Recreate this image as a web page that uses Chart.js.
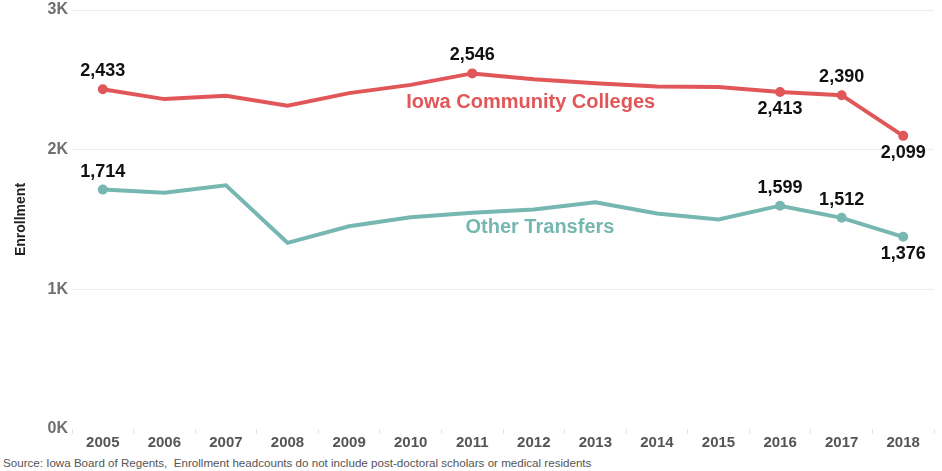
<!DOCTYPE html>
<html>
<head>
<meta charset="utf-8">
<script src="https://cdn.jsdelivr.net/npm/chart.js@4"></script>
<style>
  html, body { margin: 0; padding: 0; background: #fff; }
  #wrap { position: relative; width: 942px; height: 471px; }
  #source {
    position: absolute; left: 3px; top: 456px;
    font: 11.6px "Liberation Sans", Arial, sans-serif; color: #555;
    white-space: pre;
  }
</style>
</head>
<body>
<div id="wrap">
  <canvas id="chart" width="942" height="452"></canvas>
  <div id="source">Source: Iowa Board of Regents,  Enrollment headcounts do not include post-doctoral scholars or medical residents</div>
</div>
<script>
/* ================= DATA ================= */
const years = ["2005", "2006", "2007", "2008", "2009", "2010", "2011",
               "2012", "2013", "2014", "2015", "2016", "2017", "2018"];

const colleges  = [2433, 2362, 2386, 2314, 2405, 2464, 2546, 2505, 2476, 2452, 2448, 2413, 2390, 2099];
const transfers = [1714, 1691, 1745, 1333, 1452, 1516, 1548, 1571, 1624, 1543, 1500, 1599, 1512, 1376];

// which points get a value label, and on which side
const collegeMarks  = ["above", null, null, null, null, null, "above", null, null, null, null, "below", "above", "below"];
const transferMarks = ["above", null, null, null, null, null, null, null, null, null, null, "above", "above", "below"];

const yTicks = [0, 1000, 2000, 3000];

/* ================= STYLE ================= */
const FONT = '"Liberation Sans", Arial, sans-serif';
const RED = "#e15759";
const TEAL = "#76b7b2";

/* ================= PLUGINS ================= */
const valueLabels = {
  id: "valueLabels",
  afterDatasetsDraw(chart) {
    const ctx = chart.ctx;
    ctx.save();
    ctx.font = `bold 18px ${FONT}`;
    ctx.fillStyle = "#111";
    ctx.textAlign = "center";
    ctx.textBaseline = "middle";
    chart.data.datasets.forEach((ds, di) => {
      const meta = chart.getDatasetMeta(di);
      ds.marks.forEach((m, i) => {
        if (!m) return;
        const pt = meta.data[i];
        const txt = ds.data[i].toLocaleString("en-US");
        const w = ctx.measureText(txt).width;
        const x = Math.min(pt.x, chart.width - 2 - w / 2);
        const y = m === "above" ? pt.y - 18 : pt.y + 17;
        ctx.fillText(txt, x, y);
      });
    });
    ctx.restore();
  }
};

const seriesNames = {
  id: "seriesNames",
  afterDatasetsDraw(chart) {
    const { ctx, scales: { x, y } } = chart;
    ctx.save();
    ctx.font = `bold 20px ${FONT}`;
    ctx.textAlign = "center";
    ctx.textBaseline = "middle";
    ctx.fillStyle = RED;
    ctx.fillText("Iowa Community Colleges", x.getPixelForValue(6.95), y.getPixelForValue(2336));
    ctx.fillStyle = TEAL;
    ctx.fillText("Other Transfers", x.getPixelForValue(7.1), y.getPixelForValue(1443));
    ctx.restore();
  }
};

/* ================= CHART ================= */
new Chart(document.getElementById("chart"), {
  type: "line",
  data: {
    labels: years,
    datasets: [
      {
        label: "Iowa Community Colleges",
        data: colleges,
        marks: collegeMarks,
        borderColor: RED,
        backgroundColor: RED,
        borderWidth: 4,
        pointRadius: collegeMarks.map(m => (m ? 3 : 0)),
        tension: 0
      },
      {
        label: "Other Transfers",
        data: transfers,
        marks: transferMarks,
        borderColor: TEAL,
        backgroundColor: TEAL,
        borderWidth: 4,
        pointRadius: transferMarks.map(m => (m ? 3 : 0)),
        tension: 0
      }
    ]
  },
  options: {
    responsive: false,
    animation: false,
    layout: { padding: { top: 0, right: 1, bottom: 0, left: 0 } },
    plugins: { legend: { display: false }, tooltip: { enabled: false } },
    scales: {
      x: {
        offset: true,
        border: { display: false },
        grid: { drawOnChartArea: false, drawTicks: true, tickLength: 5, color: "#e3e3e3", offset: true },
        ticks: { color: "#555", font: { family: FONT, size: 15, weight: "bold" }, padding: 0 }
      },
      y: {
        min: 0,
        max: 3000,
        afterBuildTicks: s => { s.ticks = yTicks.map(v => ({ value: v })); },
        afterFit: s => { s.width = 72; s.paddingTop = 10; },
        border: { display: false },
        grid: {
          drawTicks: false,
          color: c => (c.tick && c.tick.value === 0 ? "rgba(0,0,0,0)" : "#ececec")
        },
        ticks: {
          color: "#6f6f6f",
          padding: 4,
          font: { family: FONT, size: 16, weight: "bold" },
          callback: v => v / 1000 + "K"
        },
        title: {
          display: true,
          text: "Enrollment",
          color: "#222",
          font: { family: FONT, size: 14, weight: "bold" },
          padding: { top: 13, bottom: 0 }
        }
      }
    }
  },
  plugins: [valueLabels, seriesNames]
});
</script>
</body>
</html>
